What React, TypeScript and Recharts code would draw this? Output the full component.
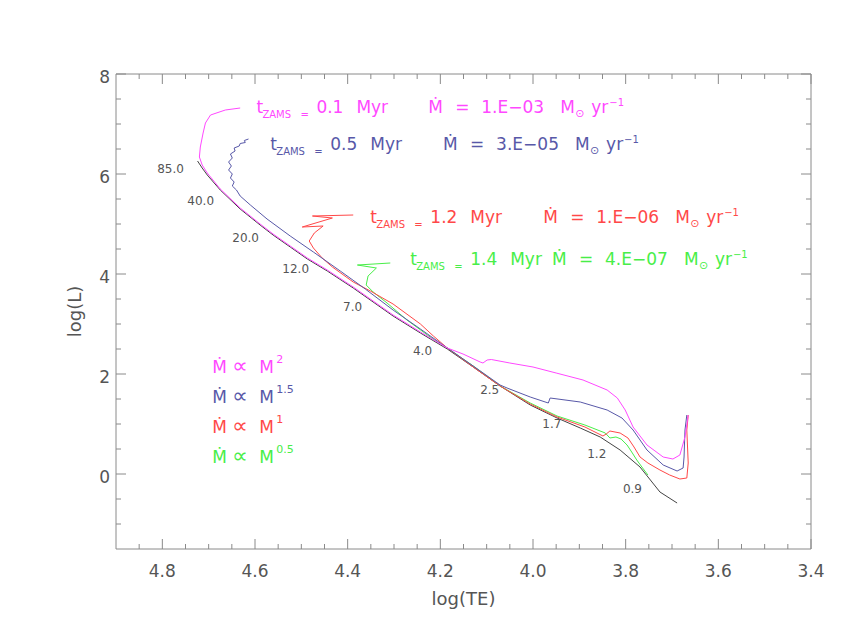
import React from 'react';
import { LineChart, Line, XAxis, YAxis, ReferenceDot } from 'recharts';

type Pt = [number, number];

const AXIS_GRAY = '#8a8a8a';
const TEXT_GRAY = '#555555';
const FONT = '"DejaVu Sans", sans-serif';

// ticks on log(TE) and log(L)
const X_MAJOR = [4.8, 4.6, 4.4, 4.2, 4.0, 3.8, 3.6, 3.4];
const X_TICKS = [
  4.85, 4.8, 4.75, 4.7, 4.65, 4.6, 4.55, 4.5, 4.45, 4.4, 4.35, 4.3, 4.25, 4.2, 4.15,
  4.1, 4.05, 4.0, 3.95, 3.9, 3.85, 3.8, 3.75, 3.7, 3.65, 3.6, 3.55, 3.5, 3.45, 3.4,
];
const Y_MAJOR = [8, 6, 4, 2, 0];
const Y_TICKS = [8, 7.5, 7, 6.5, 6, 5.5, 5, 4.5, 4, 3.5, 3, 2.5, 2, 1.5, 1, 0.5, 0, -0.5, -1];

// [log(TE), log(L)]
const ZAMS_TRACK: Pt[] = [
  [4.724, 6.26], [4.714, 6.12], [4.703, 5.98], [4.675, 5.68], [4.632, 5.3], [4.589, 4.98],
  [4.561, 4.78], [4.524, 4.54], [4.487, 4.3], [4.444, 4.06], [4.388, 3.72], [4.302, 3.16],
  [4.243, 2.82], [4.185, 2.5], [4.129, 2.14], [4.071, 1.76], [4.006, 1.38], [3.948, 1.12],
  [3.898, 0.92], [3.855, 0.74], [3.812, 0.48], [3.769, 0.14], [3.726, -0.36], [3.689, -0.58],
];

const TRACK_M2: Pt[] = [
  [3.665, 1.18], [3.672, 0.74], [3.683, 0.38], [3.698, 0.3], [3.719, 0.34], [3.754, 0.58],
  [3.784, 0.94], [3.801, 1.28], [3.818, 1.52], [3.84, 1.68], [3.892, 1.88], [3.95, 2.02],
  [4.0, 2.14], [4.05, 2.22], [4.09, 2.29], [4.099, 2.28], [4.108, 2.22], [4.114, 2.24],
  [4.151, 2.4], [4.185, 2.52], [4.243, 2.84], [4.302, 3.18], [4.388, 3.74], [4.444, 4.08],
  [4.487, 4.32], [4.524, 4.56], [4.561, 4.8], [4.589, 5.0], [4.632, 5.32], [4.675, 5.7],
  [4.703, 6.02], [4.714, 6.18], [4.72, 6.34], [4.718, 6.54], [4.712, 6.82], [4.707, 7.02],
  [4.696, 7.18], [4.664, 7.28], [4.632, 7.32],
];

const TRACK_M15: Pt[] = [
  [3.668, 1.18], [3.672, 0.88], [3.674, 0.34], [3.676, 0.12], [3.689, 0.06], [3.719, 0.18],
  [3.754, 0.48], [3.784, 0.88], [3.808, 1.12], [3.84, 1.28], [3.898, 1.44], [3.963, 1.52],
  [3.967, 1.42], [4.006, 1.54], [4.056, 1.72], [4.071, 1.78], [4.129, 2.16], [4.185, 2.52],
  [4.243, 2.9], [4.302, 3.28], [4.362, 3.7], [4.416, 4.06], [4.474, 4.44], [4.524, 4.76],
  [4.574, 5.1], [4.61, 5.38], [4.632, 5.56], [4.64, 5.68], [4.649, 5.76], [4.645, 5.84],
  [4.653, 5.92], [4.649, 6.0], [4.657, 6.08], [4.651, 6.16], [4.657, 6.24], [4.649, 6.32],
  [4.653, 6.4], [4.643, 6.46], [4.645, 6.52], [4.634, 6.56], [4.632, 6.61], [4.621, 6.63],
  [4.623, 6.67], [4.614, 6.7],
];

const TRACK_M1: Pt[] = [
  [3.665, 1.18], [3.668, 0.88], [3.665, 0.22], [3.668, -0.08], [3.683, -0.1], [3.705, -0.02],
  [3.726, 0.08], [3.752, 0.22], [3.769, 0.34], [3.782, 0.54], [3.795, 0.72], [3.812, 0.82],
  [3.834, 0.86], [3.842, 0.8], [3.849, 0.76], [3.888, 0.94], [3.948, 1.14], [4.006, 1.4],
  [4.071, 1.76], [4.129, 2.14], [4.185, 2.52], [4.215, 2.76], [4.243, 3.0], [4.302, 3.4],
  [4.351, 3.66], [4.388, 3.84], [4.433, 4.14], [4.455, 4.32], [4.474, 4.52], [4.483, 4.66],
  [4.472, 4.82], [4.453, 4.96], [4.498, 4.94], [4.433, 5.12], [4.476, 5.16], [4.388, 5.18],
];

const TRACK_M05: Pt[] = [
  [3.752, -0.02], [3.765, 0.14], [3.776, 0.28], [3.787, 0.44], [3.797, 0.58], [3.81, 0.7],
  [3.821, 0.74], [3.834, 0.72], [3.844, 0.82], [3.888, 0.98], [3.948, 1.16], [4.006, 1.42],
  [4.071, 1.76], [4.129, 2.16], [4.185, 2.52], [4.216, 2.7], [4.272, 3.08], [4.315, 3.42],
  [4.345, 3.64], [4.36, 3.78], [4.356, 3.96], [4.338, 4.12], [4.379, 4.18], [4.308, 4.22],
];

const MASS_LABELS = ['85.0', '40.0', '20.0', '12.0', '7.0', '4.0', '2.5', '1.7', '1.2', '0.9'];
const MASS_LABEL_TE = [4.811, 4.746, 4.649, 4.541, 4.41, 4.259, 4.114, 3.98, 3.883, 3.806];
const MASS_LABEL_L = [6.02, 5.38, 4.64, 4.02, 3.26, 2.38, 1.6, 0.92, 0.32, -0.38];

const T_ZAMS = ['0.1', '0.5', '1.2', '1.4'];
const MDOT_VALUES = ['1.E\u221203', '3.E\u221205', '1.E\u221206', '4.E\u221207'];
const NOTE_TE = [4.597, 4.567, 4.351, 4.265];
const NOTE_L = [7.22, 6.48, 5.02, 4.18];
const MDOT_TE = [4.226, 4.194, 3.978, 3.959];

const EXPONENTS = ['2', '1.5', '1', '0.5'];
const KEY_TE = 4.692;
const KEY_L = [2.02, 1.42, 0.82, 0.22];

const COLORS = ['#ff48ff', '#5858a8', '#ff4848', '#48ee48'];
const ZAMS_COLOR = '#444444';

const TRACKS = [
  { name: 'zams', pts: ZAMS_TRACK, color: ZAMS_COLOR },
  { name: 'm05', pts: TRACK_M05, color: COLORS[3] },
  { name: 'm1', pts: TRACK_M1, color: COLORS[2] },
  { name: 'm15', pts: TRACK_M15, color: COLORS[1] },
  { name: 'm2', pts: TRACK_M2, color: COLORS[0] },
];

const isMajor = (list: number[], v: number) => list.some((m) => Math.abs(m - v) < 1e-6);

const XTick = (props: any) => {
  const { x, y, payload, side } = props;
  const v = Number(payload.value);
  const major = isMajor(X_MAJOR, v);
  const len = major ? 10 : 5;
  const dir = side === 'bottom' ? -1 : 1;
  return (
    <g>
      <line x1={x} x2={x} y1={y} y2={y + dir * len} stroke={AXIS_GRAY} />
      {major && side === 'bottom' && (
        <text x={x} y={y + 28} textAnchor="middle" fill={TEXT_GRAY} fontSize={17} fontFamily={FONT}>
          {v.toFixed(1)}
        </text>
      )}
    </g>
  );
};

const YTick = (props: any) => {
  const { x, y, payload, side } = props;
  const v = Number(payload.value);
  const major = isMajor(Y_MAJOR, v);
  const len = major ? 10 : 5;
  const dir = side === 'left' ? 1 : -1;
  return (
    <g>
      <line x1={x} x2={x + dir * len} y1={y} y2={y} stroke={AXIS_GRAY} />
      {major && side === 'left' && (
        <text x={x - 6} y={y + 9} textAnchor="end" fill={TEXT_GRAY} fontSize={17} fontFamily={FONT}>
          {String(v)}
        </text>
      )}
    </g>
  );
};

const XTitle = (props: any) => {
  const { x, y, width } = props.viewBox;
  return (
    <text x={x + width / 2} y={y + 56} textAnchor="middle" fill={TEXT_GRAY} fontSize={18} fontFamily={FONT}>
      log(TE)
    </text>
  );
};

const YTitle = (props: any) => {
  const { x, y, height } = props.viewBox;
  const cx = x + 25;
  const cy = y + height / 2;
  return (
    <text x={cx} y={cy} transform={`rotate(-90 ${cx} ${cy})`} textAnchor="middle" fill={TEXT_GRAY} fontSize={18} fontFamily={FONT}>
      log(L)
    </text>
  );
};

const TZamsNote = (props: any) => {
  const { x, y } = props.viewBox;
  const { color, value } = props;
  return (
    <text fill={color} fontSize={17} fontFamily={FONT}>
      <tspan x={x} y={y}>t</tspan>
      <tspan x={x + 6} y={y + 5} fontSize={10}>ZAMS</tspan>
      <tspan x={x + 44} y={y + 5} fontSize={10}>=</tspan>
      <tspan x={x + 60} y={y}>{value}</tspan>
      <tspan x={x + 100} y={y}>Myr</tspan>
    </text>
  );
};

const MdotNote = (props: any) => {
  const { x, y } = props.viewBox;
  const { color, value } = props;
  return (
    <text fill={color} fontSize={17} fontFamily={FONT}>
      <tspan x={x} y={y}>{'\u1E40'}</tspan>
      <tspan x={x + 27} y={y}>=</tspan>
      <tspan x={x + 53} y={y}>{value}</tspan>
      <tspan x={x + 132} y={y}>M</tspan>
      <tspan x={x + 147} y={y + 4} fontSize={11}>{'\u2299'}</tspan>
      <tspan x={x + 163} y={y}>yr</tspan>
      <tspan x={x + 181} y={y - 7} fontSize={10}>{'\u22121'}</tspan>
    </text>
  );
};

const KeyRow = (props: any) => {
  const { x, y } = props.viewBox;
  const { color, exp } = props;
  return (
    <text fill={color} fontSize={17} fontFamily={FONT}>
      <tspan x={x} y={y}>{'\u1E40'}</tspan>
      <tspan x={x + 20} y={y} fontSize={22}>{'\u221D'}</tspan>
      <tspan x={x + 47} y={y}>M</tspan>
      <tspan x={x + 64} y={y - 10} fontSize={11}>{exp}</tspan>
    </text>
  );
};

const MassLabel = (props: any) => {
  const { x, y } = props.viewBox;
  return (
    <text x={x} y={y} fill={TEXT_GRAY} fontSize={12} fontFamily={FONT}>
      {props.text}
    </text>
  );
};

const axisRefs = { xAxisId: 'b', yAxisId: 'l', r: 0, fill: 'none', stroke: 'none' };

export default function App() {
  return (
    <div style={{ position: 'absolute', left: 0, top: 0, width: 845, height: 623, background: '#fff' }}>
      <LineChart width={845} height={623} margin={{ top: 64, right: 24, bottom: 34, left: 56 }}>
        <XAxis
          xAxisId="b" type="number" dataKey="te" domain={[3.4, 4.9]} reversed allowDataOverflow
          ticks={X_TICKS} interval={0} height={40} tickLine={false} tickSize={0} tickMargin={0}
          axisLine={{ stroke: AXIS_GRAY }} tick={<XTick side="bottom" />} label={<XTitle />}
        />
        <XAxis
          xAxisId="t" orientation="top" type="number" dataKey="te" domain={[3.4, 4.9]} reversed allowDataOverflow
          ticks={X_TICKS} interval={0} height={10} tickLine={false} tickSize={0} tickMargin={0}
          axisLine={{ stroke: AXIS_GRAY }} tick={<XTick side="top" />}
        />
        <YAxis
          yAxisId="l" type="number" domain={[-1.5, 8]} allowDataOverflow
          ticks={Y_TICKS} interval={0} width={60} tickLine={false} tickSize={0} tickMargin={0}
          axisLine={{ stroke: AXIS_GRAY }} tick={<YTick side="left" />} label={<YTitle />}
        />
        <YAxis
          yAxisId="r" orientation="right" type="number" domain={[-1.5, 8]} allowDataOverflow
          ticks={Y_TICKS} interval={0} width={10} tickLine={false} tickSize={0} tickMargin={0}
          axisLine={{ stroke: AXIS_GRAY }} tick={<YTick side="right" />}
        />
        {/* invisible copy of the ZAMS so the top / right frame axes get drawn */}
        <Line
          xAxisId="t"
          yAxisId="r"
          data={ZAMS_TRACK.map(([te, l]) => ({ te, l }))}
          dataKey="l"
          stroke="none"
          dot={false}
          activeDot={false}
          isAnimationActive={false}
        />
        {TRACKS.map((t) => (
          <Line
            key={t.name}
            xAxisId="b"
            yAxisId="l"
            data={t.pts.map(([te, l]) => ({ te, l }))}
            dataKey="l"
            type="linear"
            stroke={t.color}
            strokeWidth={1}
            dot={false}
            activeDot={false}
            isAnimationActive={false}
          />
        ))}
        {MASS_LABELS.map((m, i) => (
          <ReferenceDot key={`mass-${m}`} {...axisRefs} x={MASS_LABEL_TE[i]} y={MASS_LABEL_L[i]} label={<MassLabel text={m} />} />
        ))}
        {T_ZAMS.map((t, i) => (
          <ReferenceDot key={`tz-${t}`} {...axisRefs} x={NOTE_TE[i]} y={NOTE_L[i]} label={<TZamsNote color={COLORS[i]} value={t} />} />
        ))}
        {MDOT_VALUES.map((m, i) => (
          <ReferenceDot key={`md-${m}`} {...axisRefs} x={MDOT_TE[i]} y={NOTE_L[i]} label={<MdotNote color={COLORS[i]} value={m} />} />
        ))}
        {EXPONENTS.map((e, i) => (
          <ReferenceDot key={`key-${e}`} {...axisRefs} x={KEY_TE} y={KEY_L[i]} label={<KeyRow color={COLORS[i]} exp={e} />} />
        ))}
      </LineChart>
    </div>
  );
}
